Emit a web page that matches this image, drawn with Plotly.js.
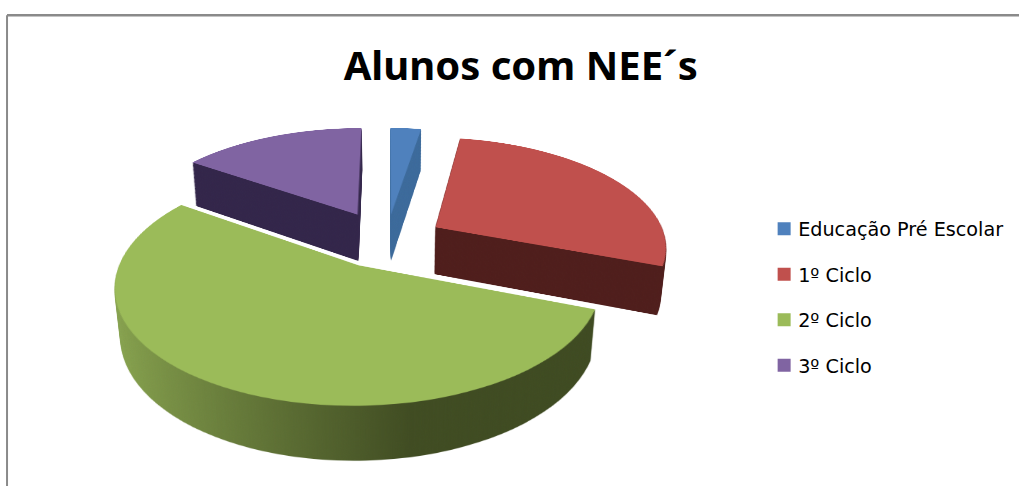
<!DOCTYPE html>
<html>
<head>
<meta charset="utf-8">
<script src="https://cdn.plot.ly/plotly-3.0.1.min.js"></script>
<style>
html,body{margin:0;padding:0;background:#fff;width:1019px;height:486px;overflow:hidden}
#base{position:absolute;left:0;top:0;width:1019px;height:486px}
#scene{position:absolute;left:90.5px;top:-55px;width:591px;height:591px;transform-style:preserve-3d;
 transform:perspective(1250px) rotateX(62deg);transform-origin:50% 50%}
.layer{position:absolute;left:0;top:0;width:591px;height:591px}
</style>
</head>
<body>
<div id="base"></div>
<div id="scene"></div>
<script>
const categories = ["Educação Pré Escolar", "1º Ciclo", "2º Ciclo", "3º Ciclo"];
const values = [1, 11, 21, 6];
const pulls = [0.25, 0.25, 0.25, 0.28];
const topColors = ["#4f81bd", "#c0504d", "#9bbb59", "#8064a2"];
const sideColors = ["#3c6a9b", "#4f1e1c", "#5f7a35", "#33264a"];
const chartTitle = "Alunos com NEE´s";
const layerCount = 55;
const layerStep = 1;

const legendTraces = categories.map((c, i) => ({
  type: "scatter", mode: "markers", x: [null], y: [null], name: c, legendgroup: c,
  marker: {symbol: "square", size: 13, color: topColors[i]}, hoverinfo: "skip"
}));
Plotly.newPlot("base", legendTraces, {
  width: 1019, height: 486, margin: {l: 0, r: 0, t: 0, b: 0},
  paper_bgcolor: "#fff", plot_bgcolor: "rgba(0,0,0,0)",
  xaxis: {visible: false}, yaxis: {visible: false},
  title: {text: "<b>" + chartTitle + "</b>", x: 0.511, xanchor: "center", y: 0.865, yanchor: "middle",
    font: {family: "Noto Sans, Open Sans, sans-serif", size: 40, color: "#000"}},
  showlegend: true,
  legend: {x: 0.744, xanchor: "left", y: 0.5685, yanchor: "top", tracegroupgap: 17.6,
    font: {family: "DejaVu Sans, sans-serif", size: 19.2, color: "#000"},
    bgcolor: "rgba(0,0,0,0)", itemwidth: 30},
  shapes: [
    {type: "line", xref: "paper", yref: "paper", x0: 0.0069, x1: 1, y0: 0.9685, y1: 0.9685, line: {color: "#8a8a8a", width: 2.5}},
    {type: "line", xref: "paper", yref: "paper", x0: 0.0069, x1: 0.0069, y0: 0, y1: 0.9685, line: {color: "#8a8a8a", width: 2}}
  ]
}, {staticPlot: true});
document.querySelectorAll("#base .legendpoints").forEach(p => {
  const t = p.getAttribute("transform") || "";
  p.setAttribute("transform", "translate(6,0) " + t);
});

const scene = document.getElementById("scene");
function addGradient(gd) {
  const svg = gd.querySelector("svg.main-svg");
  const ns = "http://www.w3.org/2000/svg";
  const id = "sideGrad" + gd.id;
  const g = document.createElementNS(ns, "linearGradient");
  g.setAttribute("id", id);
  [[0, "#8aa650"], [0.62, "#404c22"], [1, "#3e4a21"]].forEach(s => {
    const st = document.createElementNS(ns, "stop");
    st.setAttribute("offset", s[0]);
    st.setAttribute("stop-color", s[1]);
    g.appendChild(st);
  });
  svg.querySelector("defs").appendChild(g);
  const paths = gd.querySelectorAll(".slice path.surface");
  paths[2].style.fill = "url(#" + id + ")";
}
for (let k = layerCount; k >= 0; k--) {
  const d = document.createElement("div");
  d.className = "layer";
  d.id = "layer" + k;
  d.style.transform = "translateZ(" + (-k * layerStep) + "px)";
  scene.appendChild(d);
  Plotly.newPlot(d, [{
    type: "pie", labels: categories, values: values, pull: pulls, sort: false,
    direction: "clockwise", rotation: 0, textinfo: "none", hoverinfo: "skip",
    marker: {colors: k === 0 ? topColors : sideColors, line: {width: 0}}
  }], {
    width: 591, height: 591, margin: {l: 0, r: 0, t: 0, b: 0},
    paper_bgcolor: "rgba(0,0,0,0)", showlegend: false
  }, {staticPlot: true});
  if (k > 0) addGradient(d);
}
</script>
</body>
</html>
